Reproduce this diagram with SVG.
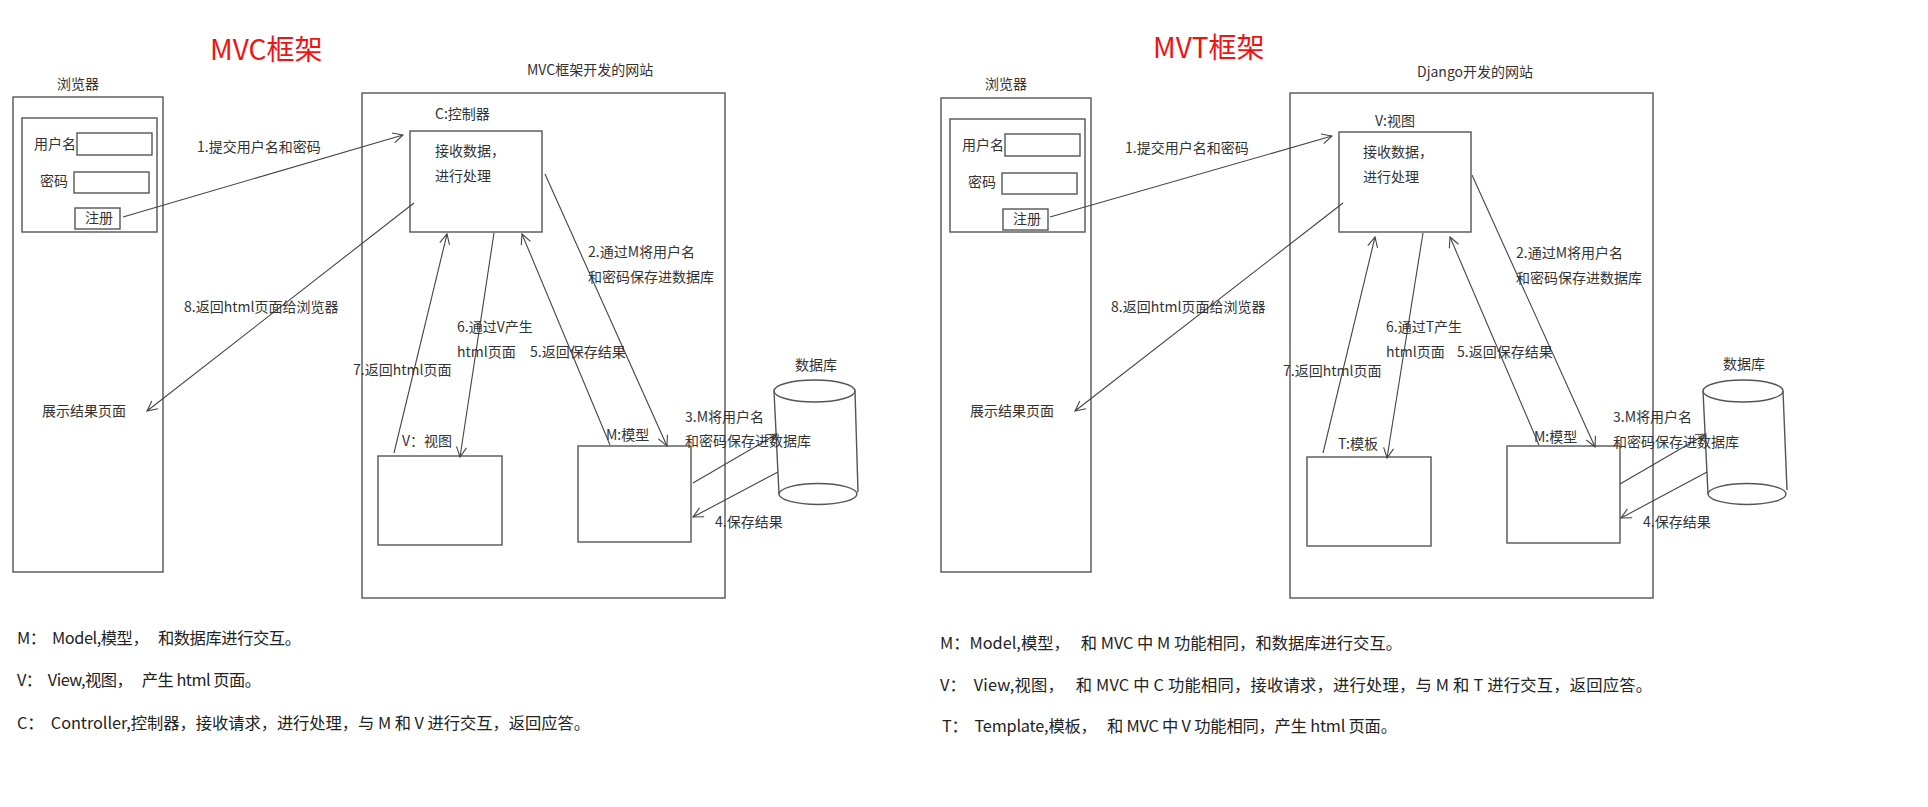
<svg xmlns="http://www.w3.org/2000/svg" width="1928" height="807" viewBox="0 0 1928 807">
<defs>
<style>
.box{fill:#fff;stroke:#555;stroke-width:1.4}
.frame{fill:none;stroke:#555;stroke-width:1.4}
.ln{fill:none;stroke:#444;stroke-width:1.1;marker-end:url(#arr)}
.t{font-family:"Noto Sans CJK SC","Noto Sans",sans-serif;font-size:14px;fill:#333}
.title{font-family:"Noto Sans CJK SC","Noto Sans",sans-serif;font-size:28px;fill:#f01414}
.note{font-family:"Noto Sans CJK SC","Noto Sans",sans-serif;font-size:16.3px;fill:#222;white-space:pre}
</style>
<marker id="arr" viewBox="0 0 12 12" refX="11" refY="6" markerWidth="12" markerHeight="12" markerUnits="userSpaceOnUse" orient="auto">
<path d="M1,1 L11,6 L1,11" fill="none" stroke="#444" stroke-width="1.1"/>
</marker>
</defs>
<rect width="1928" height="807" fill="#fff"/>

<!-- ===== LEFT: MVC ===== -->
<g id="mvc-title"><text class="title" x="210" y="60">MVC框架</text></g>

<g id="mvc-browser">
<text class="t" x="57" y="89">浏览器</text>
<rect class="frame" x="13" y="97" width="150" height="475"/>
<rect class="frame" x="22" y="118" width="135" height="114"/>
<text class="t" x="34" y="149">用户名</text>
<rect class="box" x="77" y="133" width="75" height="22"/>
<text class="t" x="40" y="186">密码</text>
<rect class="box" x="74" y="172" width="75" height="21"/>
<rect class="box" x="75" y="208" width="45" height="21"/>
<text class="t" x="85" y="223">注册</text>
<text class="t" x="42" y="416">展示结果页面</text>
</g>

<g id="mvc-site">
<text class="t" x="527" y="75">MVC框架开发的网站</text>
<rect class="frame" x="362" y="93" width="363" height="505"/>
</g>

<g id="mvc-controller">
<text class="t" x="435" y="119">C:控制器</text>
<rect class="box" x="410" y="131" width="132" height="101"/>
<text class="t" x="435" y="156">接收数据，</text>
<text class="t" x="435" y="181">进行处理</text>
</g>

<g id="mvc-view">
<text class="t" x="402" y="446">V：视图</text>
<rect class="box" x="378" y="456" width="124" height="89"/>
</g>

<g id="mvc-model">
<text class="t" x="606" y="440">M:模型</text>
<rect class="box" x="578" y="446" width="113" height="96"/>
</g>

<g id="mvc-db">
<text class="t" x="795" y="370">数据库</text>
<path class="frame" d="M774,391 L779,494 M855,391 L858,492"/>
<ellipse cx="818" cy="494" rx="39" ry="10.5" fill="#fff" stroke="#555" stroke-width="1.4"/>
<ellipse cx="814.5" cy="391" rx="40.5" ry="11" fill="#fff" stroke="#555" stroke-width="1.4"/>
</g>

<g id="mvc-connectors">
<line class="ln" x1="123" y1="217" x2="403" y2="135"/>
<line class="ln" x1="545" y1="174" x2="667" y2="446"/>
<line class="ln" x1="693" y1="483" x2="777" y2="434"/>
<line class="ln" x1="778" y1="472" x2="693" y2="517"/>
<line class="ln" x1="610" y1="445" x2="522" y2="234"/>
<line class="ln" x1="494" y1="233" x2="460" y2="457"/>
<line class="ln" x1="394" y1="453" x2="447" y2="234"/>
<line class="ln" x1="414" y1="203" x2="147" y2="411"/>
<text class="t" x="197" y="152">1.提交用户名和密码</text>
<text class="t" x="588" y="257">2.通过M将用户名</text>
<text class="t" x="588" y="282">和密码保存进数据库</text>
<text class="t" x="685" y="422">3.M将用户名</text>
<text class="t" x="685" y="446">和密码保存进数据库</text>
<text class="t" x="715" y="527">4.保存结果</text>
<text class="t" x="530" y="357">5.返回保存结果</text>
<text class="t" x="457" y="332">6.通过V产生</text>
<text class="t" x="457" y="357">html页面</text>
<text class="t" x="353" y="375">7.返回html页面</text>
<text class="t" x="184" y="312">8.返回html页面给浏览器</text>
</g>

<g id="mvc-notes">
<text class="note" x="17" y="644" textLength="284" xml:space="preserve">M：  Model,模型，   和数据库进行交互。</text>
<text class="note" x="17" y="686" textLength="244" xml:space="preserve">V：  View,视图，   产生 html 页面。</text>
<text class="note" x="17" y="729" textLength="573" xml:space="preserve">C：  Controller,控制器，接收请求，进行处理，与 M 和 V 进行交互，返回应答。</text>
</g>

<!-- ===== RIGHT: MVT ===== -->
<g id="mvt-title"><text class="title" x="1153" y="58">MVT框架</text></g>

<g id="mvt-browser">
<text class="t" x="985" y="89">浏览器</text>
<rect class="frame" x="941" y="98" width="150" height="474"/>
<rect class="frame" x="950" y="119" width="135" height="113"/>
<text class="t" x="962" y="150">用户名</text>
<rect class="box" x="1005" y="134" width="75" height="22"/>
<text class="t" x="968" y="187">密码</text>
<rect class="box" x="1002" y="173" width="75" height="21"/>
<rect class="box" x="1003" y="209" width="45" height="21"/>
<text class="t" x="1013" y="224">注册</text>
<text class="t" x="970" y="416">展示结果页面</text>
</g>

<g id="mvt-site">
<text class="t" x="1417" y="77">Django开发的网站</text>
<rect class="frame" x="1290" y="93" width="363" height="505"/>
</g>

<g id="mvt-view">
<text class="t" x="1375" y="126">V:视图</text>
<rect class="box" x="1339" y="132" width="132" height="100"/>
<text class="t" x="1363" y="157">接收数据，</text>
<text class="t" x="1363" y="182">进行处理</text>
</g>

<g id="mvt-template">
<text class="t" x="1338" y="449">T:模板</text>
<rect class="box" x="1307" y="457" width="124" height="89"/>
</g>

<g id="mvt-model">
<text class="t" x="1534" y="442">M:模型</text>
<rect class="box" x="1507" y="446" width="113" height="97"/>
</g>

<g id="mvt-db">
<text class="t" x="1723" y="369">数据库</text>
<path class="frame" d="M1703,391 L1708,494 M1783,391 L1787,490"/>
<ellipse cx="1747" cy="494" rx="39" ry="10.5" fill="#fff" stroke="#555" stroke-width="1.4"/>
<ellipse cx="1743" cy="391" rx="40" ry="11" fill="#fff" stroke="#555" stroke-width="1.4"/>
</g>

<g id="mvt-connectors">
<line class="ln" x1="1050" y1="217" x2="1332" y2="136"/>
<line class="ln" x1="1472" y1="175" x2="1595" y2="447"/>
<line class="ln" x1="1620" y1="484" x2="1706" y2="434"/>
<line class="ln" x1="1707" y1="472" x2="1621" y2="518"/>
<line class="ln" x1="1539" y1="445" x2="1450" y2="237"/>
<line class="ln" x1="1423" y1="233" x2="1387" y2="458"/>
<line class="ln" x1="1323" y1="453" x2="1375" y2="237"/>
<line class="ln" x1="1343" y1="203" x2="1075" y2="411"/>
<text class="t" x="1125" y="153">1.提交用户名和密码</text>
<text class="t" x="1516" y="258">2.通过M将用户名</text>
<text class="t" x="1516" y="283">和密码保存进数据库</text>
<text class="t" x="1613" y="422">3.M将用户名</text>
<text class="t" x="1613" y="447">和密码保存进数据库</text>
<text class="t" x="1643" y="527">4.保存结果</text>
<text class="t" x="1457" y="357">5.返回保存结果</text>
<text class="t" x="1386" y="332">6.通过T产生</text>
<text class="t" x="1386" y="357">html页面</text>
<text class="t" x="1283" y="376">7.返回html页面</text>
<text class="t" x="1111" y="312">8.返回html页面给浏览器</text>
</g>

<g id="mvt-notes">
<text class="note" x="940" y="649" textLength="462" xml:space="preserve">M：Model,模型，   和 MVC 中 M 功能相同，和数据库进行交互。</text>
<text class="note" x="940" y="691" textLength="712" xml:space="preserve">V：  View,视图，   和 MVC 中 C 功能相同，接收请求，进行处理，与 M 和 T 进行交互，返回应答。</text>
<text class="note" x="942" y="732" textLength="455" xml:space="preserve">T：  Template,模板，   和 MVC 中 V 功能相同，产生 html 页面。</text>
</g>
</svg>
